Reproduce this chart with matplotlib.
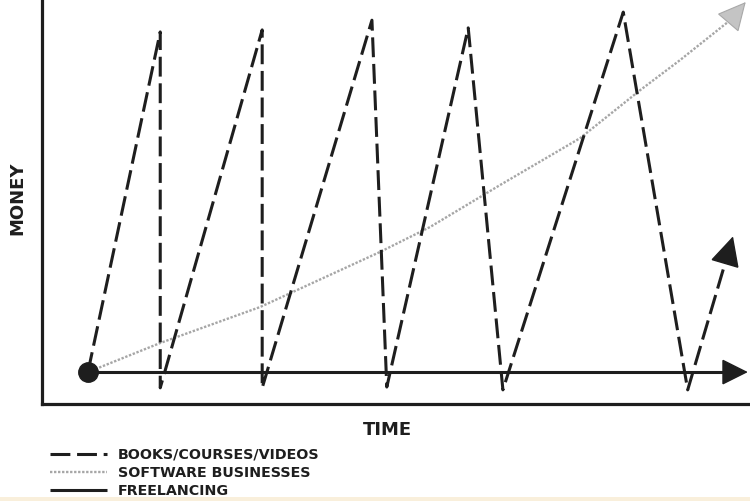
import matplotlib
matplotlib.use("Agg")
import matplotlib.pyplot as plt
from matplotlib.patches import Rectangle
import numpy as np

# data on a 0-100 time / 0-100 money scale
books_t = [6.5, 16.7, 16.7, 31.1, 31.1, 46.6, 48.7, 60.2, 65.1, 82.1, 91.2, 97.6]
books_m = [8.0, 92.1, 4.0, 92.6, 4.0, 95.0, 4.2, 93.1, 3.5, 97.0, 3.5, 41.5]

software_t = [6.5, 16.7, 30.8, 47.7, 54.8, 64.7, 76.0, 84.5, 90.1, 97.2, 99.4]
software_m = [7.9, 15.1, 24.0, 37.6, 43.8, 54.2, 65.8, 77.7, 85.1, 95.0, 99.5]

freelance_t = [6.5, 99.7]
freelance_m = [7.9, 7.9]

labels = ["BOOKS/COURSES/VIDEOS", "SOFTWARE BUSINESSES", "FREELANCING"]

INK = "#1e1e1e"
W, H = 750, 501

fig = plt.figure(figsize=(W / 100, H / 100), dpi=100, facecolor="white")
ax = fig.add_axes([42 / W, (H - 404) / H, 708 / W, 404 / H])
ax.set_xlim(0, 100)
ax.set_ylim(0, 100)
ax.set_xticks([]); ax.set_yticks([])
for side in ("top", "right"):
    ax.spines[side].set_visible(False)
for side in ("left", "bottom"):
    ax.spines[side].set_color(INK)
    ax.spines[side].set_linewidth(2.3)


def arrow_end(t, m, ms, fc, ec, lw):
    """draw a solid head on the last segment, return the data point where the head starts"""
    p0 = ax.transData.transform((t[-2], m[-2]))
    p1 = ax.transData.transform((t[-1], m[-1]))
    head_px = 0.4 * ms * fig.dpi / 72.0
    u = (p1 - p0) / np.hypot(*(p1 - p0))
    cut = ax.transData.inverted().transform(p1 - u * head_px)
    ax.annotate("", xy=(t[-1], m[-1]), xytext=tuple(cut), annotation_clip=False,
                arrowprops=dict(arrowstyle="-|>", mutation_scale=ms, shrinkA=0, shrinkB=0,
                                lw=lw, fc=fc, ec=ec, joinstyle="miter"))
    return cut


# freelancing: solid baseline with arrow
fc = arrow_end(freelance_t, freelance_m, 42, INK, INK, 1.0)
(fl_line,) = ax.plot([freelance_t[0], fc[0]], [freelance_m[0], fc[1]], color=INK, lw=2.2,
                     solid_capstyle="butt", label=labels[2])

# software: dotted rising curve with grey head
sc = arrow_end(software_t, software_m, 46, "#c4c4c4", "#a8a8a8", 0.8)
(sw_line,) = ax.plot(software_t[:-1] + [sc[0]], software_m[:-1] + [sc[1]], color="#a6a6a6",
                     lw=1.7, linestyle=(0, (1, 0.7)), label=labels[1], clip_on=False)

# books: dashed sawtooth with arrow
bc = arrow_end(books_t, books_m, 48, INK, INK, 1.0)
(bk_line,) = ax.plot(books_t[:-1] + [bc[0]], books_m[:-1] + [bc[1]], color=INK, lw=2.2,
                     linestyle=(0, (6.5, 2.2)), label=labels[0], clip_on=False)

# starting dot
ax.plot(books_t[0], books_m[0], "o", color=INK, ms=14, zorder=5, clip_on=False)

fig.text(387 / W, 1 - 430 / H, "TIME", ha="center", va="center",
         fontsize=13, fontweight="bold", color=INK)
fig.text(17 / W, 1 - 198 / H, "MONEY", ha="center", va="center", rotation=90,
         fontsize=13, fontweight="bold", color=INK)

fig.legend(handles=[bk_line, sw_line, fl_line], loc="upper left",
           bbox_to_anchor=(50 / W, 1 - 448 / H), frameon=False,
           handlelength=4.0, handletextpad=0.75, labelspacing=0.28,
           borderpad=0, borderaxespad=0, labelcolor=INK,
           prop=dict(weight="bold", size=10.3))

# pale strip along the bottom edge
fig.patches.append(Rectangle((0, 0), 1, 4 / H, transform=fig.transFigure,
                             facecolor="#f9efdb", edgecolor="none"))

fig.savefig("out.png", dpi=100, facecolor="white")
